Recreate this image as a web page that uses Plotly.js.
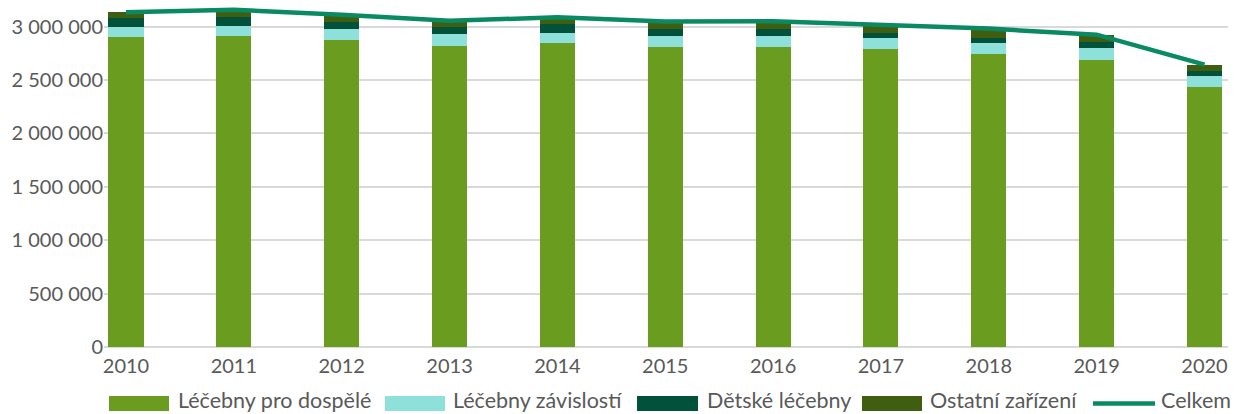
<!DOCTYPE html>
<html>
<head>
<meta charset="utf-8">
<script src="https://cdn.plot.ly/plotly-3.0.1.min.js"></script>
<style>html,body{margin:0;padding:0;background:#fff;}#chart{width:1239px;height:414px;}</style>
</head>
<body>
<div id="chart"></div>
<script>
const years = ["2010","2011","2012","2013","2014","2015","2016","2017","2018","2019","2020"];
const seriesNames = ["Léčebny pro dospělé","Léčebny závislostí","Dětské léčebny","Ostatní zařízení","Celkem"];
const dospele   = [2902000,2911000,2874000,2818000,2846000,2808000,2808000,2789000,2743000,2687000,2434000];
const zavislosti= [  93000,  94000, 103000, 112000,  93000, 103000, 103000, 103000, 103000, 112000, 103000];
const detske    = [  85000,  84000,  65000,  65000,  84000,  66000,  66000,  47000,  46000,  56000,  47000];
const ostatni   = [  56000,  70000,  70000,  60000,  65000,  72000,  75000,  80000,  90000,  70000,  60000];
const celkem    = [3136000,3159000,3112000,3055000,3088000,3049000,3052000,3019000,2982000,2925000,2644000];
const colors = ["#6A9C1F","#8EE0DA","#02513A","#3F5E10","#0A8A63"];

const W = 1239, H = 414;
const M = {l:104, r:11, t:0, b:67};
const PW = W - M.l - M.r, PH = H - M.t - M.b;
const px = x => (x - M.l) / PW;
const py = y => (H - M.b - y) / PH;
const font = "Lato, 'Open Sans', sans-serif";
const textColor = "#595959";

const barVals = [dospele, zavislosti, detske, ostatni];
const traces = barVals.map((v,i) => ({
  type:"bar", x: years, y: v, name: seriesNames[i],
  marker:{color: colors[i], line:{width:0}}, showlegend:false,
  hoverinfo:"y+name"
}));
traces.push({
  type:"scatter", mode:"lines", x: years, y: celkem, name: seriesNames[4],
  line:{color: colors[4], width:4.5}, showlegend:false
});

// custom legend
const legendSwatch = [[109,169],[385,445],[637,698],[862,922],[1093,1155]];
const legendText = [177,452,706,929,1160];
const shapes = [], annotations = [];
for (let i=0;i<5;i++){
  const [a,b] = legendSwatch[i];
  if (i<4){
    shapes.push({type:"rect", xref:"paper", yref:"paper", x0:px(a), x1:px(b), y0:py(411), y1:py(396),
      fillcolor:colors[i], line:{width:0}});
  } else {
    shapes.push({type:"line", xref:"paper", yref:"paper", x0:px(a), x1:px(b), y0:py(403.5), y1:py(403.5),
      line:{color:colors[i], width:4.5}});
  }
  annotations.push({xref:"paper", yref:"paper", x:px(legendText[i]), y:py(413.5), xanchor:"left", yanchor:"bottom",
    text:seriesNames[i], showarrow:false, borderpad:0, font:{family:font, size:21.5, color:textColor}});
}

const layout = {
  width:W, height:H, margin:M, barmode:"stack", bargap:0.675,
  paper_bgcolor:"#fff", plot_bgcolor:"#fff",
  separators:", ",
  font:{family:font, size:20, color:textColor},
  showlegend:false,
  xaxis:{type:"category", range:[-0.204,10.218], showgrid:false, showline:false, zeroline:false,
    ticks:"", ticklabelstandoff:5, tickfont:{family:font, size:20, color:textColor}},
  yaxis:{range:[0,3250000], tickvals:[0,500000,1000000,1500000,2000000,2500000,3000000], tickformat:",d",
    showgrid:true, gridcolor:"#D9D9D9", gridwidth:2, zeroline:true, zerolinecolor:"#D9D9D9", zerolinewidth:2,
    showline:false, ticks:"", tickfont:{family:font, size:20, color:textColor}},
  shapes:shapes, annotations:annotations
};
Plotly.newPlot("chart", traces, layout, {staticPlot:true});
</script>
</body>
</html>
